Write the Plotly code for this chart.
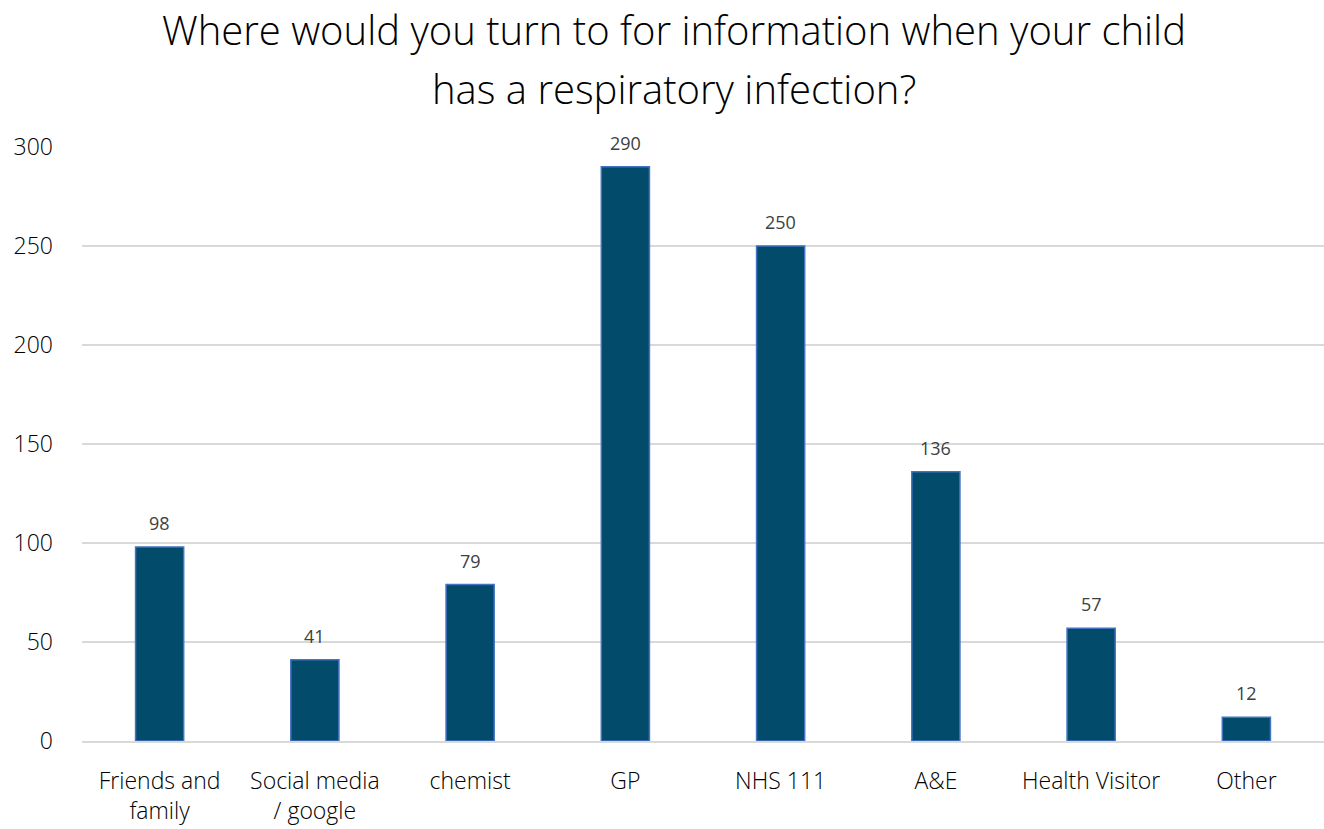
import plotly.graph_objects as go

categories = ["Friends and<br>family", "Social media<br>/ google", "chemist", "GP",
              "NHS 111", "A&E", "Health Visitor", "Other"]
values = [98, 41, 79, 290, 250, 136, 57, 12]
y_ticks = [0, 50, 100, 150, 200, 250, 300]
title_lines = ["Where would you turn to for information when your child",
               "has a respiratory infection?"]

FONT = "Open Sans"

fig = go.Figure()
fig.add_trace(go.Bar(
    x=categories, y=values,
    marker=dict(color="#034B6B", line=dict(color="#4472C4", width=1.5)),
    width=0.31,
))

for c, v in zip(categories, values):
    fig.add_annotation(x=c, y=v, text=str(v), showarrow=False, yshift=24,
                       font=dict(family="Open Sans, sans-serif", size=18, color="#404040"))

for i, line in enumerate(title_lines):
    fig.add_annotation(xref="paper", yref="paper", x=0.477, y=[1.197, 1.099][i],
                       xanchor="center", yanchor="middle", showarrow=False, text=line,
                       font=dict(family=FONT, size=40, color="#000000", weight=300))

fig.update_layout(
    width=1324, height=829,
    paper_bgcolor="white", plot_bgcolor="white",
    margin=dict(l=82, r=0, t=147, b=88),
    showlegend=False,
    font=dict(family=FONT, color="#000000"),
)
fig.update_yaxes(range=[0, 300], tickvals=y_ticks, showgrid=True, gridcolor="#D9D9D9", gridwidth=1.5,
                 zeroline=False, showline=False, ticks="", ticklabelstandoff=28,
                 tickfont=dict(family=FONT, size=23, color="#000000", weight=300))
fig.update_xaxes(showline=True, linecolor="#D9D9D9", linewidth=1.5, ticks="", ticklabelstandoff=19,
                 tickfont=dict(family=FONT, size=23, color="#000000", weight=300))

fig.write_html("out.html")
